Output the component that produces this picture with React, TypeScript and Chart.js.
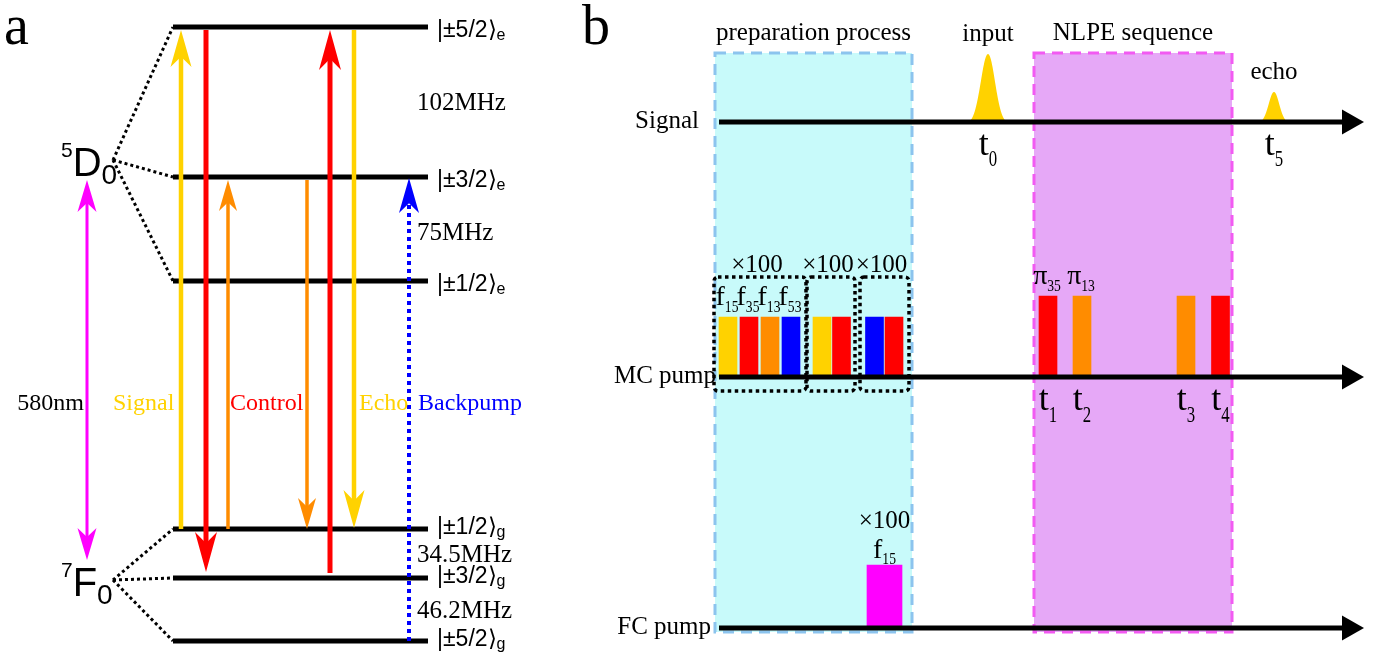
import { useEffect, useRef } from "react";
import { Chart, registerables } from "chart.js";

Chart.register(...registerables);

// ---------------- palette ----------------
const BLACK = "#000000";
const YELLOW = "#FFD200";
const RED = "#FF0000";
const ORANGE = "#FF8C00";
const BLUE = "#0000FF";
const MAGENTA = "#FF00FF";
const SERIF = '"Liberation Serif", "Times New Roman", serif';
const SANS = '"Liberation Sans", Arial, sans-serif';

// ---------------- panel a: level scheme ----------------
const panelLabels = ["a", "b"];
const panelLabelX = [4, 582];

const levelStates = ["±5/2", "±3/2", "±1/2", "±1/2", "±3/2", "±5/2"];
const levelManifolds = ["e", "e", "e", "g", "g", "g"];
const levelValues = [27, 177, 281, 529, 578, 641];
const levelRange = [173, 428];

const termManifolds = ["e", "g"];
const termMultiplicities = ["5", "7"];
const termLetters = ["D", "F"];
const termJ = ["0", "0"];
const termAnchorX = [113, 113];
const termAnchorY = [160, 580];

const splittingLabels = ["102MHz", "75MHz", "34.5MHz", "46.2MHz"];
const splittingValues = [110, 240, 562, 618];

const transitionKinds = ["signal", "control", "f13", "f13", "control", "echo", "backpump"];
const transitionX = [181, 206, 228, 307, 330, 354, 409];
const transitionFrom = [529, 30, 529, 180, 573, 30, 641];
const transitionTo = [30, 572, 180, 529, 30, 528, 178];

const transitionNames = ["Signal", "Control", "Echo", "Backpump"];
const transitionNameKinds = ["signal", "control", "echo", "backpump"];
const transitionNameX = [113, 230, 359, 418];
const transitionNameValue = 410;

const opticalLabel = "580nm";
const opticalX = 87;
const opticalRange = [180, 560];

// ---------------- panel b: pulse sequence ----------------
const channelNames = ["Signal", "MC pump", "FC pump"];
const channelValues = [122, 377, 628];
const channelNameRight = [699, 716, 711];
const timeRange = [719, 1364];

const stageNames = ["preparation process", "NLPE sequence"];
const stageStart = [715, 1034];
const stageEnd = [912, 1232];
const stageRange = [53, 632];

const signalPulseNames = ["input", "echo"];
const signalPulseTimes = [988, 1274];
const signalPulseAmplitudes = [68, 30];
const signalPulseHalfWidths = [20, 15];
const signalPulseTimeIndex = ["0", "5"];

const mcPulseTimes = [728, 749, 770, 791, 822, 841.5, 874.5, 894, 1048, 1082, 1186, 1220.5];
const mcPulseKinds = ["f15", "f35", "f13", "f53", "f15", "f35", "f53", "f35", "f35", "f13", "f13", "f35"];
const mcPulseAmplitudes = [60, 60, 60, 60, 60, 60, 60, 60, 81, 81, 81, 81];
const mcPulseLabels = ["f15", "f35", "f13", "f53", "", "", "", "", "π35", "π13", "", ""];
const mcPulseTimeIndex = ["", "", "", "", "", "", "", "", "1", "2", "3", "4"];

const repeatStart = [714, 807, 860];
const repeatEnd = [806, 855, 909];
const repeatLabels = ["×100", "×100", "×100"];

const fcPulseTimes = [884.5];
const fcPulseAmplitudes = [63];
const fcPulseLabels = ["f15"];
const fcRepeatLabels = ["×100"];

// ---------------- styles ----------------
const KIND_COLOR: Record<string, string> = { f15: YELLOW, f35: RED, f13: ORANGE, f53: BLUE };
type ArrowStyle = { color: string; width: number; headW: number; headL: number; dash?: number[] };
const ARROW_STYLE: Record<string, ArrowStyle> = {
  signal: { color: YELLOW, width: 4.5, headW: 21, headL: 37 },
  control: { color: RED, width: 5, headW: 22, headL: 40 },
  f13: { color: ORANGE, width: 3.5, headW: 18, headL: 31 },
  echo: { color: YELLOW, width: 4.5, headW: 21, headL: 38 },
  backpump: { color: BLUE, width: 4, headW: 20, headL: 35, dash: [4, 4] },
};
const OPTICAL_STYLE: ArrowStyle = { color: MAGENTA, width: 3, headW: 19, headL: 32 };
const STAGE_FILL = ["#C8FAFA", "#E6A8F7"];
const STAGE_EDGE = ["#8CC4EE", "#F25AF2"];

type Seg = { t: string; size: number; dy?: number; sx?: number };

function rich(
  ctx: CanvasRenderingContext2D,
  segs: Seg[],
  x: number,
  y: number,
  color: string,
  align: "left" | "center" | "right",
  family: string
) {
  ctx.save();
  ctx.fillStyle = color;
  ctx.textBaseline = "alphabetic";
  ctx.textAlign = "left";
  const widths = segs.map((s) => {
    ctx.font = `${s.size}px ${family}`;
    return ctx.measureText(s.t).width * (s.sx ?? 1);
  });
  const total = widths.reduce((a, b) => a + b, 0);
  let cx = align === "left" ? x : align === "center" ? x - total / 2 : x - total;
  segs.forEach((s, i) => {
    ctx.font = `${s.size}px ${family}`;
    ctx.save();
    ctx.translate(cx, y + (s.dy ?? 0));
    ctx.scale(s.sx ?? 1, 1);
    ctx.fillText(s.t, 0, 0);
    ctx.restore();
    cx += widths[i];
  });
  ctx.restore();
}

function stealth(ctx: CanvasRenderingContext2D, x: number, tip: number, dir: number, st: ArrowStyle) {
  ctx.save();
  ctx.fillStyle = st.color;
  ctx.beginPath();
  ctx.moveTo(x, tip);
  ctx.lineTo(x - st.headW / 2, tip - dir * st.headL);
  ctx.lineTo(x, tip - dir * st.headL * 0.72);
  ctx.lineTo(x + st.headW / 2, tip - dir * st.headL);
  ctx.closePath();
  ctx.fill();
  ctx.restore();
}

function lineDs(points: { x: number; y: number }[], color: string, width: number, order: number, dash: number[] = []) {
  return {
    type: "line",
    data: points,
    borderColor: color,
    backgroundColor: color,
    borderWidth: width,
    borderDash: dash,
    borderCapStyle: "butt",
    pointRadius: 0,
    pointHoverRadius: 0,
    fill: false,
    tension: 0,
    showLine: true,
    order,
    clip: false,
  };
}

const diagramPlugin = {
  id: "diagram",
  beforeDraw(chart: any) {
    const ctx = chart.ctx as CanvasRenderingContext2D;
    ctx.save();
    ctx.fillStyle = "#ffffff";
    ctx.fillRect(0, 0, chart.width, chart.height);
    ctx.restore();
  },
  beforeDatasetsDraw(chart: any) {
    const ctx = chart.ctx as CanvasRenderingContext2D;
    const X = (v: number) => chart.scales.x.getPixelForValue(v);
    const Y = (v: number) => chart.scales.y.getPixelForValue(v);
    // stage boxes
    stageNames.forEach((_, i) => {
      const x0 = X(stageStart[i]);
      const x1 = X(stageEnd[i]);
      const y0 = Y(stageRange[0]);
      const y1 = Y(stageRange[1]);
      ctx.save();
      ctx.fillStyle = STAGE_FILL[i];
      ctx.fillRect(x0, y0, x1 - x0, y1 - y0);
      ctx.setLineDash([11, 7]);
      ctx.lineWidth = 3;
      ctx.strokeStyle = STAGE_EDGE[i];
      ctx.strokeRect(x0, y0, x1 - x0, y1 - y0);
      ctx.restore();
    });
    // signal pulses (bell shapes)
    signalPulseTimes.forEach((t, i) => {
      const c = X(t);
      const w = X(t + signalPulseHalfWidths[i]) - c;
      const b = Y(channelValues[0]);
      const p = Y(channelValues[0] - signalPulseAmplitudes[i]);
      ctx.save();
      ctx.fillStyle = YELLOW;
      ctx.beginPath();
      ctx.moveTo(c - w, b);
      ctx.bezierCurveTo(c - 0.45 * w, b, c - 0.3 * w, p, c, p);
      ctx.bezierCurveTo(c + 0.3 * w, p, c + 0.45 * w, b, c + w, b);
      ctx.closePath();
      ctx.fill();
      ctx.restore();
    });
  },
  afterDatasetsDraw(chart: any) {
    const ctx = chart.ctx as CanvasRenderingContext2D;
    const X = (v: number) => chart.scales.x.getPixelForValue(v);
    const Y = (v: number) => chart.scales.y.getPixelForValue(v);
    // transition arrow heads
    transitionKinds.forEach((k, i) => {
      const st = ARROW_STYLE[k];
      const dir = Math.sign(transitionTo[i] - transitionFrom[i]);
      stealth(ctx, X(transitionX[i]), Y(transitionTo[i]), dir, st);
    });
    // optical double arrow heads
    stealth(ctx, X(opticalX), Y(opticalRange[0]), -1, OPTICAL_STYLE);
    stealth(ctx, X(opticalX), Y(opticalRange[1]), 1, OPTICAL_STYLE);
    // time axis heads
    channelValues.forEach((v) => {
      const tip = X(timeRange[1]);
      const yy = Y(v);
      ctx.save();
      ctx.fillStyle = BLACK;
      ctx.beginPath();
      ctx.moveTo(tip, yy);
      ctx.lineTo(tip - 22, yy - 12.5);
      ctx.lineTo(tip - 22, yy + 12.5);
      ctx.closePath();
      ctx.fill();
      ctx.restore();
    });
    // repetition boxes
    repeatStart.forEach((s, i) => {
      const x0 = X(s);
      const x1 = X(repeatEnd[i]);
      const y0 = Y(channelValues[1] - 100);
      const y1 = Y(channelValues[1] + 14);
      ctx.save();
      ctx.setLineDash([3.5, 3.5]);
      ctx.lineWidth = 3.5;
      ctx.strokeStyle = BLACK;
      ctx.beginPath();
      ctx.roundRect(x0, y0, x1 - x0, y1 - y0, 4);
      ctx.stroke();
      ctx.restore();
    });
  },
  afterDraw(chart: any) {
    const ctx = chart.ctx as CanvasRenderingContext2D;
    const X = (v: number) => chart.scales.x.getPixelForValue(v);
    const Y = (v: number) => chart.scales.y.getPixelForValue(v);

    panelLabels.forEach((l, i) => rich(ctx, [{ t: l, size: 56 }], X(panelLabelX[i]), Y(44), BLACK, "left", SERIF));

    // ---- panel a ----
    termLetters.forEach((letter, i) => {
      rich(
        ctx,
        [
          { t: termMultiplicities[i], size: 21, dy: -19 },
          { t: letter, size: 40 },
          { t: termJ[i], size: 28, dy: 8 },
        ],
        X(termAnchorX[i] - 52),
        Y(termAnchorY[i] + 16),
        BLACK,
        "left",
        SANS
      );
    });
    levelStates.forEach((s, i) => {
      const off = levelManifolds[i] === "e" ? 10 : 5;
      rich(
        ctx,
        [
          { t: `|${s}⟩`, size: 23 },
          { t: levelManifolds[i], size: 16, dy: 3 },
        ],
        X(levelRange[1] + 9),
        Y(levelValues[i] + off),
        BLACK,
        "left",
        SANS
      );
    });
    splittingLabels.forEach((s, i) => rich(ctx, [{ t: s, size: 25 }], X(417), Y(splittingValues[i]), BLACK, "left", SERIF));
    rich(ctx, [{ t: opticalLabel, size: 24 }], X(opticalX - 3), Y(transitionNameValue), BLACK, "right", SERIF);
    transitionNames.forEach((n, i) =>
      rich(ctx, [{ t: n, size: 24 }], X(transitionNameX[i]), Y(transitionNameValue), ARROW_STYLE[transitionNameKinds[i]].color, "left", SERIF)
    );

    // ---- panel b ----
    channelNames.forEach((n, i) => rich(ctx, [{ t: n, size: 25 }], X(channelNameRight[i]), Y(channelValues[i] + 6), BLACK, "right", SERIF));
    stageNames.forEach((n, i) =>
      rich(ctx, [{ t: n, size: 25 }], X((stageStart[i] + stageEnd[i]) / 2), Y(stageRange[0] - 13), BLACK, "center", SERIF)
    );
    signalPulseNames.forEach((n, i) => {
      rich(ctx, [{ t: n, size: 25 }], X(signalPulseTimes[i]), Y(channelValues[0] - signalPulseAmplitudes[i] - 13), BLACK, "center", SERIF);
      rich(
        ctx,
        [
          { t: "t", size: 36 },
          { t: signalPulseTimeIndex[i], size: 24, dy: 11, sx: 0.7 },
        ],
        X(signalPulseTimes[i]),
        Y(channelValues[0] + 33),
        BLACK,
        "center",
        SERIF
      );
    });
    mcPulseTimes.forEach((t, i) => {
      const lab = mcPulseLabels[i];
      if (lab) {
        rich(
          ctx,
          [
            { t: lab[0], size: 28 },
            { t: lab.slice(1), size: 17, dy: 7, sx: 0.8 },
          ],
          X(t - 1),
          Y(channelValues[1] - mcPulseAmplitudes[i] - 12),
          BLACK,
          "center",
          SERIF
        );
      }
      if (mcPulseTimeIndex[i]) {
        rich(
          ctx,
          [
            { t: "t", size: 36 },
            { t: mcPulseTimeIndex[i], size: 24, dy: 12, sx: 0.7 },
          ],
          X(t),
          Y(channelValues[1] + 33),
          BLACK,
          "center",
          SERIF
        );
      }
    });
    repeatLabels.forEach((l, i) =>
      rich(ctx, [{ t: l, size: 25 }], X((repeatStart[i] + repeatEnd[i]) / 2 - 3), Y(channelValues[1] - 105), BLACK, "center", SERIF)
    );
    fcPulseTimes.forEach((t, i) => {
      const lab = fcPulseLabels[i];
      const base = channelValues[2] - fcPulseAmplitudes[i] - 7;
      rich(
        ctx,
        [
          { t: lab[0], size: 28 },
          { t: lab.slice(1), size: 17, dy: 6, sx: 0.8 },
        ],
        X(t),
        Y(base),
        BLACK,
        "center",
        SERIF
      );
      rich(ctx, [{ t: fcRepeatLabels[i], size: 25 }], X(t), Y(base - 30), BLACK, "center", SERIF);
    });
  },
};

function buildConfig() {
  const datasets: any[] = [];
  // transition shafts
  transitionKinds.forEach((k, i) => {
    const st = ARROW_STYLE[k];
    const dir = Math.sign(transitionTo[i] - transitionFrom[i]);
    const end = transitionTo[i] - dir * st.headL * 0.6;
    datasets.push(
      lineDs(
        [
          { x: transitionX[i], y: transitionFrom[i] },
          { x: transitionX[i], y: end },
        ],
        st.color,
        st.width,
        1,
        st.dash
      )
    );
  });
  // optical double arrow
  datasets.push(
    lineDs(
      [
        { x: opticalX, y: opticalRange[0] + OPTICAL_STYLE.headL * 0.6 },
        { x: opticalX, y: opticalRange[1] - OPTICAL_STYLE.headL * 0.6 },
      ],
      OPTICAL_STYLE.color,
      OPTICAL_STYLE.width,
      1
    )
  );
  // time axes
  channelValues.forEach((v) =>
    datasets.push(
      lineDs(
        [
          { x: timeRange[0], y: v },
          { x: timeRange[1] - 20, y: v },
        ],
        BLACK,
        5,
        2
      )
    )
  );
  // connectors from term symbols to sublevels
  levelValues.forEach((v, i) => {
    const t = termManifolds.indexOf(levelManifolds[i]);
    datasets.push(
      lineDs(
        [
          { x: termAnchorX[t], y: termAnchorY[t] },
          { x: levelRange[0], y: v },
        ],
        BLACK,
        3,
        3,
        [3, 3]
      )
    );
  });
  // energy levels
  levelValues.forEach((v) =>
    datasets.push(
      lineDs(
        [
          { x: levelRange[0], y: v },
          { x: levelRange[1], y: v },
        ],
        BLACK,
        5,
        4
      )
    )
  );
  // MC pump pulses
  datasets.push({
    type: "bar",
    data: mcPulseTimes.map((t, i) => ({ x: t, y: [channelValues[1], channelValues[1] - mcPulseAmplitudes[i]] })),
    backgroundColor: mcPulseKinds.map((k) => KIND_COLOR[k]),
    borderWidth: 0,
    barThickness: 18,
    grouped: false,
    order: 6,
  });
  // FC pump pulses
  datasets.push({
    type: "bar",
    data: fcPulseTimes.map((t, i) => ({ x: t, y: [channelValues[2], channelValues[2] - fcPulseAmplitudes[i]] })),
    backgroundColor: MAGENTA,
    borderWidth: 0,
    barThickness: 35,
    grouped: false,
    order: 6,
  });

  return {
    type: "scatter",
    data: { datasets },
    options: {
      animation: false,
      responsive: false,
      maintainAspectRatio: false,
      events: [],
      layout: { padding: 0 },
      scales: {
        x: { type: "linear", min: 0, max: 1390, display: false, offset: false },
        y: { type: "linear", min: 0, max: 660, reverse: true, display: false },
      },
      plugins: { legend: { display: false }, tooltip: { enabled: false } },
    },
    plugins: [diagramPlugin],
  };
}

export default function App() {
  const ref = useRef<HTMLCanvasElement>(null);
  useEffect(() => {
    if (!ref.current) return;
    const chart = new Chart(ref.current, buildConfig() as any);
    return () => chart.destroy();
  }, []);
  return (
    <div style={{ position: "absolute", left: 0, top: 0, width: 1390, height: 660, background: "#fff" }}>
      <canvas ref={ref} width={1390} height={660} style={{ display: "block", width: 1390, height: 660 }} />
    </div>
  );
}
